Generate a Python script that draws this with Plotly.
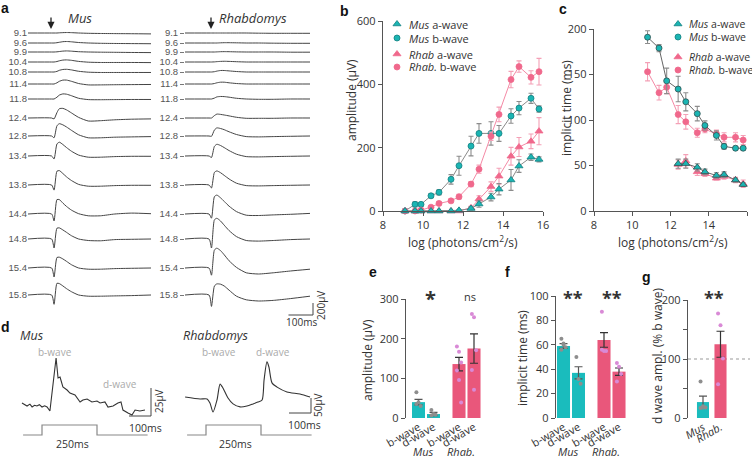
import plotly.graph_objects as go

W, H = 752, 459

# ------------------------------------------------------------------ data
INTENSITY_LABELS = ["9.1", "9.6", "9.9", "10.4", "10.8", "11.4", "11.8", "12.4",
                    "12.8", "13.4", "13.8", "14.4", "14.8", "15.4", "15.8"]
LOG_INTENSITY = [9.1, 9.6, 9.9, 10.4, 10.8, 11.4, 11.8, 12.4, 12.8, 13.4, 13.8, 14.4, 14.8, 15.4, 15.8]

# panel a: ERG traces (time in ms after flash, amplitude in µV)
TRACE_T_MS = [-100, -2, 8, 20, 30, 45, 60, 80, 110, 150, 200, 260, 330, 410]
MUS_TRACES_UV = [
    [0, 0, 0, 0, 3, 6, 8, 6, 0, -5, -8, -10, -12, -15],
    [0, 0, 0, 5, 12, 22, 25, 20, 8, 0, -5, -8, -10, -12],
    [0, 0, 0, 3, 8, 15, 18, 14, 5, 0, -3, -5, -8, -10],
    [0, 0, 0, 8, 20, 32, 35, 28, 10, -3, -8, -8, -8, -10],
    [0, 0, 0, 10, 28, 42, 45, 35, 12, -3, -8, -8, -8, -8],
    [0, 0, 0, 20, 45, 65, 65, 45, 8, -15, -15, -12, -10, -8],
    [0, 0, 0, 30, 65, 85, 80, 55, 12, -10, -12, -10, -8, -8],
    [0, 0, -15, 90, 155, 160, 135, 85, 10, -50, -45, -30, -20, -15],
    [0, 0, -30, 170, 205, 185, 150, 95, 20, -30, -30, -20, -15, -10],
    [0, 0, -50, 200, 230, 190, 140, 80, 15, -20, -20, -10, -5, -5],
    [0, 0, -85, 230, 240, 190, 135, 75, 10, -20, -20, -10, -5, -5],
    [0, 0, -115, 240, 240, 180, 125, 65, 5, -30, -30, 0, 15, 5],
    [0, 0, -150, 180, 185, 150, 110, 55, 0, -25, -30, -10, -5, 0],
    [0, 0, -150, 175, 180, 150, 110, 55, 0, -20, -20, -10, -5, 0],
    [0, 0, -155, 195, 190, 150, 105, 55, 0, -20, -20, -15, -10, 0],
]
RHAB_TRACES_UV = [
    [0, 0, 0, 0, 0, 0, 0, 0, 0, 0, -3, -5, -5, -5],
    [0, 0, 0, 0, 0, 3, 5, 5, 3, 0, 0, -3, -5, -5],
    [0, 0, 0, 0, 2, 5, 6, 5, 2, 0, 0, 0, -3, -3],
    [0, 0, 0, 2, 6, 10, 12, 10, 5, 0, 0, 0, 0, 0],
    [0, 0, 0, 5, 15, 25, 25, 18, 8, 0, 0, 0, 0, 0],
    [0, 0, 0, 8, 20, 30, 30, 20, 8, 0, 0, 0, 0, 0],
    [0, 0, 0, 15, 35, 42, 40, 30, 12, 0, -5, -5, 0, 0],
    [0, 0, 0, 40, 65, 60, 50, 35, 12, -5, -5, -5, 0, 0],
    [0, 0, -5, 100, 135, 125, 105, 70, 25, -10, -15, -10, -5, 0],
    [0, 0, -25, 160, 195, 175, 140, 90, 30, -10, -15, -10, -5, 0],
    [0, 0, -50, 210, 235, 205, 160, 100, 30, -10, -15, -10, -5, 0],
    [0, 0, -70, 290, 315, 270, 210, 130, 40, -20, -25, -15, -5, 10],
    [0, 0, -150, 320, 345, 300, 230, 140, 40, -25, -35, -25, -10, 0],
    [0, 0, -120, 300, 330, 290, 220, 120, 10, -80, -100, -80, -50, -20],
    [0, 0, -190, 150, 185, 180, 150, 80, -20, -80, -100, -90, -60, -20],
]

# panel b: amplitude (µV)
B_MUS_A = [0, 0, 0, 0, 0, 0, 2, 8, 22, 44, 69, 98, 142, 170, 163]
B_MUS_A_ERR = [0, 0, 0, 0, 0, 0, 2, 5, 10, 12, 18, 33, 20, 10, 8]
B_MUS_B = [0, 21, 21, 48, 59, 100, 143, 205, 245, 245, 245, 300, 325, 356, 322]
B_MUS_B_ERR = [0, 8, 6, 6, 8, 15, 30, 31, 31, 37, 25, 23, 21, 16, 10]
B_RHAB_A = [0, 0, 0, 0, 0, 0, 0, 10, 38, 77, 110, 173, 202, 220, 252]
B_RHAB_A_ERR = [0, 0, 0, 0, 0, 0, 0, 5, 10, 15, 25, 28, 30, 23, 43]
B_RHAB_B = [0, 0, 3, 12, 24, 32, 45, 85, 132, 236, 305, 415, 456, 422, 440]
B_RHAB_B_ERR = [0, 2, 3, 4, 5, 6, 8, 8, 13, 13, 23, 26, 18, 21, 42]

# panel c: implicit time (ms)
C_LOG_B = [10.8, 11.4, 11.8, 12.4, 12.8, 13.4, 13.8, 14.4, 14.8, 15.4, 15.8]
C_MUS_B = [191, 179, 143, 134, 120, 107, 94, 83, 71, 69, 69]
C_MUS_B_ERR = [7, 4, 14, 14, 10, 8, 5, 5, 3, 2, 2]
C_RHAB_B = [153, 130, 136, 106, 98, 86, 90, 85, 81, 81, 78]
C_RHAB_B_ERR = [10, 8, 7, 10, 8, 5, 4, 4, 5, 5, 5]
C_LOG_A = [12.4, 12.8, 13.4, 13.8, 14.4, 14.8, 15.4, 15.8]
C_MUS_A = [52, 52, 48, 43, 39, 40, 34, 29]
C_MUS_A_ERR = [5, 5, 4, 3, 3, 3, 2, 2]
C_RHAB_A = [51, 55, 43, 41, 36, 38, 34, 30]
C_RHAB_A_ERR = [5, 7, 4, 3, 2, 3, 3, 4]

# panel d: long-flash responses
D_MUS_T = [-91, -68, -55, -45, -34, -23, -12, 0, 12, 23, 36, 50, 64, 73, 82, 95, 114, 127, 150,
           173, 186, 205, 227, 250, 264, 286, 300, 323, 345, 359, 368, 391, 409, 423, 445, 468]
D_MUS_UV = [0, -2.7, -1, -3.5, -2, -2.7, -1.5, -3.6, -2.5, -3.6, -7.1, 17.9, 40.2, 22.3, 23.2,
            14.3, 11.6, 8.9, 7.1, 0.9, 2.7, 3.6, 0.9, 1.8, 0, 0.9, -3.6, -2.7, 0, 0.9, -6.3,
            -8.9, -10.7, -6.3, -7.1, -6.3]
D_RHAB_T = [-95, -27, 5, 18, 32, 50, 64, 77, 100, 123, 155, 186, 214, 236, 255, 264, 277,
            286, 300, 323, 368, 427, 473]
D_RHAB_UV = [0, -6.7, -6.7, -20, -50, -10, 43, 30, -3.3, -23, -33, -30, -23, -17, -10, 57,
             117, 100, 47, 33, 17, 10, 0]
STIM_T = [-86, 0, 0, 250, 250, 480]
STIM_ON = [0, 0, 1, 1, 0, 0]

# panels e-g
GROUPS = ["Mus", "Rhab."]
WAVES = ["b-wave", "d-wave"]
E_MEAN = [[40, 10], [136, 175]]
E_SEM = [[7, 4], [17, 37]]
E_POINTS = [[[65, 40, 30, 35], [20, 10, 8, 6]],
            [[180, 167, 140, 120, 96, 39], [262, 254, 171, 121, 71]]]
F_MEAN = [[59, 37], [64, 38]]
F_SEM = [[2, 5], [6, 3]]
F_POINTS = [[[65, 61, 58, 56, 60], [50, 32, 28]],
            [[87, 55, 55, 56], [45, 42, 36, 30]]]
G_MEAN = [27, 125]
G_SEM = [10, 22]
G_POINTS = [[62, 18, 18, 17, 20], [177, 157, 101, 57]]

# ------------------------------------------------------------------ style
TEAL = "#1bb5b3"
TEAL_EDGE = "#127f80"
PINK = "#f0688c"
PINK_LINE = "#f489a5"
GRAY_LINE = "#8a8a8a"
ERR_MUS = "#8c8c8c"
ERR_RHAB = "#f4a0b6"
BAR_TEAL = "#1abcbd"
BAR_PINK = "#e9577b"
DOT_MUS = "#8e8e8e"
DOT_RHAB = "#d98ad6"
TRACE_COL = "#444444"
AX_COL = "#555555"
TXT = "#333333"
FONT = "Open Sans"


def dom_x(a, b):
    return [a / W, b / W]


def dom_y(top, bottom):
    return [1 - bottom / H, 1 - top / H]


fig = go.Figure()
layout = dict(width=W, height=H, margin=dict(l=0, r=0, t=0, b=0, autoexpand=False),
              paper_bgcolor="white", plot_bgcolor="rgba(0,0,0,0)", showlegend=False,
              font=dict(family=FONT, size=11, color=TXT))
annotations = []
shapes = []


def ann(text, x, y, size=11, color=TXT, angle=0, xanchor="center", bold=False, italic=False,
        family=FONT):
    if italic:
        text = "<i>" + text + "</i>"
    if bold:
        text = "<b>" + text + "</b>"
    annotations.append(dict(text=text, x=x / W, y=1 - y / H, xref="paper", yref="paper",
                            showarrow=False, textangle=angle, xanchor=xanchor, yanchor="middle",
                            font=dict(size=size, color=color, family=family)))


hidden = dict(showline=False, showgrid=False, zeroline=False, showticklabels=False, ticks="",
              automargin=False)

# ------------------------------------------------------------------ panel a
UV_PER_PX = 200 / 12.0
ROW_PX = [33, 43, 52, 62, 72, 84, 99, 118, 136, 156, 185, 214, 239, 268, 295]
row_offsets = [-(p - ROW_PX[0]) * UV_PER_PX for p in ROW_PX]
A_TOP, A_BOT = 20, 318
a_yrange = [-(A_BOT - ROW_PX[0]) * UV_PER_PX, (ROW_PX[0] - A_TOP) * UV_PER_PX]

for i in range(len(INTENSITY_LABELS)):
    fig.add_trace(go.Scatter(x=TRACE_T_MS, y=[v + row_offsets[i] for v in MUS_TRACES_UV[i]],
                             mode="lines", line=dict(color=TRACE_COL, width=1, shape="spline",
                                                     smoothing=0.6),
                             xaxis="x", yaxis="y", hoverinfo="skip"))
    fig.add_trace(go.Scatter(x=TRACE_T_MS, y=[v + row_offsets[i] for v in RHAB_TRACES_UV[i]],
                             mode="lines", line=dict(color=TRACE_COL, width=1, shape="spline",
                                                     smoothing=0.6),
                             xaxis="x2", yaxis="y2", hoverinfo="skip"))

t0, t1 = TRACE_T_MS[0], TRACE_T_MS[-1]
ms_per_px_r = (t1 - t0) / (310 - 185)
row_font = dict(size=9.5, color="#555", family="Liberation Sans")
layout["xaxis"] = dict(domain=dom_x(28, 151), range=[t0, t1], **hidden)
layout["yaxis"] = dict(domain=dom_y(A_TOP, A_BOT), range=a_yrange, anchor="x",
                       showline=False, showgrid=False, zeroline=False, ticks="",
                       automargin=False, tickvals=row_offsets, ticktext=INTENSITY_LABELS,
                       tickfont=row_font)
layout["xaxis2"] = dict(domain=dom_x(185, 320), range=[t0, t0 + (320 - 185) * ms_per_px_r],
                        anchor="y2", **hidden)
layout["yaxis2"] = dict(domain=dom_y(A_TOP, A_BOT), range=a_yrange, anchor="x2",
                        showline=False, showgrid=False, zeroline=False, ticks="outside",
                        automargin=False, ticklen=4, tickcolor="#777", tickvals=row_offsets,
                        ticktext=INTENSITY_LABELS, tickfont=row_font)
# scale bar 100 ms / 200 µV
bar_t = t0 + (313 - 185) * ms_per_px_r
bar_bottom = -(315 - ROW_PX[0]) * UV_PER_PX
shapes.append(dict(type="line", xref="x2", yref="y2", x0=bar_t - 100, x1=bar_t,
                   y0=bar_bottom, y1=bar_bottom, line=dict(color="#444", width=1)))
shapes.append(dict(type="line", xref="x2", yref="y2", x0=bar_t, x1=bar_t,
                   y0=bar_bottom, y1=bar_bottom + 200, line=dict(color="#444", width=1)))
ann("100ms", 301, 322, size=10)
ann("200µV", 321, 306, size=10, angle=-90)
ann("Mus", 80, 18, size=13, italic=True)
ann("Rhabdomys", 253, 18, size=13, italic=True)
for axp in (51, 211):
    annotations.append(dict(text="", x=axp / W, y=1 - 29 / H, xref="paper", yref="paper",
                            showarrow=True, ax=0, ay=-13, arrowhead=2, arrowsize=1.1,
                            arrowwidth=1.3, arrowcolor="#222"))

# ------------------------------------------------------------------ panel b
def err(arr, col):
    return dict(type="data", array=arr, color=col, thickness=1.1, width=2.5)


def add_series(x, y, e, ax, ay, sym, col, edge, lcol, ecol, size):
    fig.add_trace(go.Scatter(x=x, y=y, error_y=err(e, ecol), mode="lines+markers",
                             line=dict(color=lcol, width=1),
                             marker=dict(symbol=sym, size=size, color=col,
                                         line=dict(color=edge, width=0.8)),
                             xaxis=ax, yaxis=ay, cliponaxis=False, hoverinfo="skip"))


add_series(LOG_INTENSITY, B_MUS_B, B_MUS_B_ERR, "x3", "y3", "circle", TEAL, TEAL_EDGE,
           GRAY_LINE, ERR_MUS, 6)
add_series(LOG_INTENSITY, B_RHAB_B, B_RHAB_B_ERR, "x3", "y3", "circle", PINK, PINK,
           PINK_LINE, ERR_RHAB, 6)
add_series(LOG_INTENSITY, B_RHAB_A, B_RHAB_A_ERR, "x3", "y3", "triangle-up", PINK, PINK,
           PINK_LINE, ERR_RHAB, 7)
add_series(LOG_INTENSITY, B_MUS_A, B_MUS_A_ERR, "x3", "y3", "triangle-up", TEAL, TEAL_EDGE,
           GRAY_LINE, ERR_MUS, 7)

axline = dict(showline=True, linecolor=AX_COL, linewidth=1.3, ticks="outside", ticklen=4,
              tickcolor=AX_COL, tickwidth=1.2, showgrid=False, zeroline=False,
              automargin=False, tickfont=dict(size=11, color=TXT, family=FONT))
layout["xaxis3"] = dict(domain=dom_x(383, 543), range=[8, 16], tickvals=[8, 10, 12, 14, 16],
                        anchor="y3", **axline)
layout["yaxis3"] = dict(domain=dom_y(21, 211), range=[0, 600], tickvals=[0, 200, 400, 600],
                        anchor="x3", **axline)
ann("amplitude (µV)", 351, 100, size=12, angle=-90)
ann("log (photons/cm<sup>2</sup>/s)", 463, 242, size=12)

# ------------------------------------------------------------------ panel c
add_series(C_LOG_B, C_RHAB_B, C_RHAB_B_ERR, "x4", "y4", "circle", PINK, PINK,
           PINK_LINE, ERR_RHAB, 6)
add_series(C_LOG_B, C_MUS_B, C_MUS_B_ERR, "x4", "y4", "circle", TEAL, "#2f4f4f",
           "#666", ERR_MUS, 6)
add_series(C_LOG_A, C_RHAB_A, C_RHAB_A_ERR, "x4", "y4", "triangle-up", PINK, PINK,
           PINK_LINE, ERR_RHAB, 7)
add_series(C_LOG_A, C_MUS_A, C_MUS_A_ERR, "x4", "y4", "triangle-up", TEAL, "#2f4f4f",
           "#666", ERR_MUS, 7)
layout["xaxis4"] = dict(domain=dom_x(594, 747), range=[8, 16], tickvals=[8, 10, 12, 14, 16],
                        anchor="y4", **axline)
layout["yaxis4"] = dict(domain=dom_y(29, 211), range=[0, 200],
                        tickvals=[0, 50, 100, 150, 200], anchor="x4", **axline)
ann("implicit time (ms)", 566, 108, size=12, angle=-90)
ann("log (photons/cm<sup>2</sup>/s)", 673, 242, size=12)

# legends (b and c) drawn on a full-canvas overlay axis
layout["xaxis10"] = dict(domain=[0, 1], range=[0, W], anchor="y10", fixedrange=True, **hidden)
layout["yaxis10"] = dict(domain=[0, 1], range=[H, 0], anchor="x10", fixedrange=True, **hidden)
LEG_ITEMS = [("<i>Mus</i> a-wave", "triangle-up", TEAL, TEAL_EDGE),
             ("<i>Mus</i> b-wave", "circle", TEAL, TEAL_EDGE),
             ("<i>Rhab</i> a-wave", "triangle-up", PINK, PINK),
             ("<i>Rhab.</i> b-wave", "circle", PINK, PINK)]
for mx, tx, ys, fs in ((397, 407, [24, 38, 54, 67], 11), (678, 687, [24, 37, 57, 70], 10.5)):
    for (label, sym, col, edge), yy in zip(LEG_ITEMS, ys):
        fig.add_trace(go.Scatter(x=[mx], y=[yy], mode="markers", xaxis="x10", yaxis="y10",
                                 marker=dict(symbol=sym, size=6 if sym == "circle" else 7,
                                             color=col, line=dict(color=edge, width=0.8)),
                                 cliponaxis=False, hoverinfo="skip"))
        ann(label, tx, yy, size=fs, xanchor="left")

# ------------------------------------------------------------------ panel d
D_MS_PER_PX = 1 / 0.22
mus_uv_per_px = 25 / 28.0
rhab_uv_per_px = 50 / 15.0
layout["xaxis5"] = dict(domain=dom_x(10, 160),
                        range=[(10 - 42) * D_MS_PER_PX, (160 - 42) * D_MS_PER_PX],
                        anchor="y5", **hidden)
layout["yaxis5"] = dict(domain=dom_y(340, 450),
                        range=[(403 - 450) * mus_uv_per_px, (403 - 340) * mus_uv_per_px],
                        anchor="x5", **hidden)
layout["xaxis6"] = dict(domain=dom_x(175, 320),
                        range=[(175 - 206) * D_MS_PER_PX, (320 - 206) * D_MS_PER_PX],
                        anchor="y6", **hidden)
layout["yaxis6"] = dict(domain=dom_y(340, 450),
                        range=[(397 - 450) * rhab_uv_per_px, (397 - 340) * rhab_uv_per_px],
                        anchor="x6", **hidden)
layout["yaxis11"] = dict(domain=dom_y(415, 445), range=[-1, 2], anchor="x5", **hidden)
layout["yaxis12"] = dict(domain=dom_y(415, 445), range=[-1, 2], anchor="x6", **hidden)

fig.add_trace(go.Scatter(x=D_MUS_T, y=D_MUS_UV, mode="lines", xaxis="x5", yaxis="y5",
                         line=dict(color="#333", width=1.1), hoverinfo="skip"))
fig.add_trace(go.Scatter(x=D_RHAB_T, y=D_RHAB_UV, mode="lines", xaxis="x6", yaxis="y6",
                         line=dict(color="#333", width=1.1, shape="spline", smoothing=0.7),
                         hoverinfo="skip"))
for ya, xa in (("y11", "x5"), ("y12", "x6")):
    fig.add_trace(go.Scatter(x=STIM_T, y=STIM_ON, mode="lines", xaxis=xa, yaxis=ya,
                             line=dict(color="#888", width=1.2), hoverinfo="skip"))

# scale bars in d
mb_t = (151 - 42) * D_MS_PER_PX
mb_y = (403 - 416) * mus_uv_per_px
shapes.append(dict(type="line", xref="x5", yref="y5", x0=mb_t - 100, x1=mb_t, y0=mb_y, y1=mb_y,
                   line=dict(color="#444", width=1)))
shapes.append(dict(type="line", xref="x5", yref="y5", x0=mb_t, x1=mb_t, y0=mb_y, y1=mb_y + 25,
                   line=dict(color="#444", width=1)))
rb_t = (311 - 206) * D_MS_PER_PX
rb_y = (397 - 413) * rhab_uv_per_px
shapes.append(dict(type="line", xref="x6", yref="y6", x0=rb_t - 100, x1=rb_t, y0=rb_y, y1=rb_y,
                   line=dict(color="#444", width=1)))
shapes.append(dict(type="line", xref="x6", yref="y6", x0=rb_t, x1=rb_t, y0=rb_y, y1=rb_y + 50,
                   line=dict(color="#444", width=1)))

ann("Mus", 32, 335, size=12.5, italic=True)
ann("Rhabdomys", 216, 335, size=12.5, italic=True)
ann("b-wave", 55, 352, size=10, color="#aaa")
ann("d-wave", 120, 384, size=10, color="#aaa")
ann("b-wave", 219, 352, size=10, color="#aaa")
ann("d-wave", 273, 352, size=10, color="#aaa")
ann("25µV", 159, 401, size=10, angle=-90)
ann("100ms", 145, 428, size=10.5)
ann("250ms", 72, 444, size=10.5)
ann("50µV", 318, 405, size=10, angle=-90)
ann("100ms", 304, 425, size=10.5)
ann("250ms", 235, 444, size=10.5)

# ------------------------------------------------------------------ panels e, f, g
GROUP_STEP = 2.7
GROUP_COLORS = [(BAR_TEAL, "#555", DOT_MUS), (BAR_PINK, "#333", DOT_RHAB)]


def jitter(i):
    return ((i % 3) - 1) * 0.14


def bar_panel(means, sems, points, xa, ya):
    for gi in range(len(GROUPS)):
        bcol, ecol, dcol = GROUP_COLORS[gi]
        xs = [gi * GROUP_STEP + wi for wi in range(len(WAVES))]
        fig.add_trace(go.Bar(x=xs, y=means[gi], width=0.87, marker=dict(color=bcol, line_width=0),
                             error_y=dict(type="data", array=sems[gi], color=ecol,
                                          thickness=1.2, width=4),
                             xaxis=xa, yaxis=ya, hoverinfo="skip"))
        for wi in range(len(WAVES)):
            pts = points[gi][wi]
            fig.add_trace(go.Scatter(x=[xs[wi] + jitter(k) for k in range(len(pts))], y=pts,
                                     mode="markers", marker=dict(color=dcol, size=4),
                                     xaxis=xa, yaxis=ya, cliponaxis=False, hoverinfo="skip"))


bar_ticks = [gi * GROUP_STEP + wi for gi in range(len(GROUPS)) for wi in range(len(WAVES))]
bar_ticktext = [w for _ in GROUPS for w in WAVES]
xcat = dict(showline=False, showgrid=False, zeroline=False, ticks="", tickangle=-30,
            automargin=False, tickfont=dict(size=11, color=TXT, family=FONT))

# e
bar_panel(E_MEAN, E_SEM, E_POINTS, "x7", "y7")
layout["xaxis7"] = dict(domain=dom_x(406, 485), range=[-0.833, 4.433], anchor="y7",
                        tickvals=bar_ticks, ticktext=bar_ticktext, **xcat)
layout["yaxis7"] = dict(domain=dom_y(299, 418), range=[0, 300], tickvals=[0, 100, 200, 300],
                        anchor="x7", **axline)
ann("amplitude (µV)", 367, 360, size=12, angle=-90)
ann("*", 431, 298, size=20, bold=True)
ann("ns", 470, 296, size=11)
ann("Mus", 423, 451, size=11, italic=True)
ann("Rhab.", 461, 451, size=11, italic=True)

# f
bar_panel(F_MEAN, F_SEM, F_POINTS, "x8", "y8")
layout["xaxis8"] = dict(domain=dom_x(556, 630), range=[-0.5, 4.433], anchor="y8",
                        tickvals=bar_ticks, ticktext=bar_ticktext, **xcat)
layout["yaxis8"] = dict(domain=dom_y(296, 418), range=[0, 100],
                        tickvals=[0, 20, 40, 60, 80, 100], anchor="x8", **axline)
ann("implicit time (ms)", 522, 358, size=12, angle=-90)
ann("**", 573, 298, size=18, bold=True)
ann("**", 612, 298, size=18, bold=True)
ann("Mus", 568, 451, size=11, italic=True)
ann("Rhab.", 606, 451, size=11, italic=True)

# g
for gi in range(len(GROUPS)):
    bcol, ecol, dcol = GROUP_COLORS[gi]
    fig.add_trace(go.Bar(x=[gi], y=[G_MEAN[gi]], width=0.69, marker=dict(color=bcol, line_width=0),
                         error_y=dict(type="data", array=[G_SEM[gi]], color=ecol,
                                      thickness=1.2, width=4),
                         xaxis="x9", yaxis="y9", hoverinfo="skip"))
    pts = G_POINTS[gi]
    fig.add_trace(go.Scatter(x=[gi + jitter(k) for k in range(len(pts))], y=pts, mode="markers",
                             marker=dict(color=dcol, size=4), xaxis="x9", yaxis="y9",
                             cliponaxis=False, hoverinfo="skip"))
layout["xaxis9"] = dict(domain=dom_x(688, 750), range=[-0.857, 2.686], anchor="y9",
                        tickvals=[0, 1], ticktext=["<i>" + g + "</i>" for g in GROUPS], **xcat)
layout["yaxis9"] = dict(domain=dom_y(300, 418), range=[0, 200],
                        tickvals=[0, 50, 100, 150, 200], ticktext=["0", "", "100", "", "200"],
                        anchor="x9", **axline)
shapes.append(dict(type="line", xref="x9 domain", yref="y9", x0=0, x1=1, y0=100, y1=100,
                   line=dict(color="#999", width=1, dash="dot"), layer="below"))
ann("d wave ampl. (% b wave)", 657, 356, size=12, angle=-90)
ann("**", 714, 298, size=18, bold=True)

# panel letters
for letter, x, y in (("a", 5, 8), ("b", 344, 11), ("c", 563, 9), ("d", 6, 327),
                     ("e", 373, 272), ("f", 508, 272), ("g", 646, 277)):
    ann(letter, x, y, size=14, bold=True, family="Liberation Sans", color="#111")

layout["annotations"] = annotations
layout["shapes"] = shapes
layout["barmode"] = "overlay"
fig.update_layout(**layout)
fig.write_html("out.html", config={"displayModeBar": False},
               post_script="document.body.style.margin='0';document.body.style.padding='0';")
